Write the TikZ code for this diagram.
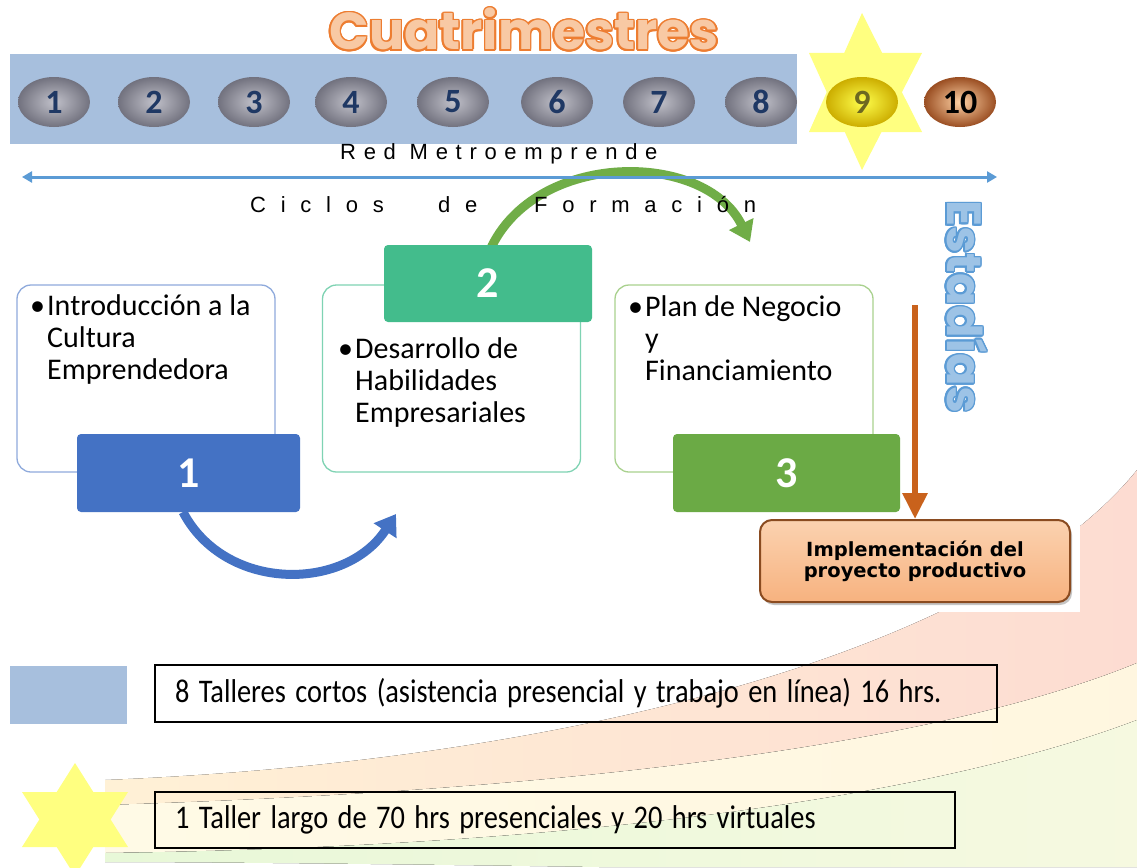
\documentclass[tikz,border=0pt]{standalone}
\usepackage{fontspec}
\setmainfont{Carlito}
\newfontfamily\titlefont{Poppins}
\newfontfamily\spacedfont{Liberation Sans}
\newfontfamily\implfont{DejaVu Sans}
\usepackage[copies]{contour}
\contourlength{1.6pt}
\usetikzlibrary{shapes.geometric,arrows.meta,positioning,shadows}

\definecolor{bandblue}{HTML}{A7BFDD}
\definecolor{ballgray}{HTML}{8E8E9E}
\definecolor{numnavy}{HTML}{1F3864}
\definecolor{starfill}{HTML}{FFFF80}
\definecolor{cycblue}{HTML}{4472C4}
\definecolor{cycteal}{HTML}{43BC8C}
\definecolor{cycgreen}{HTML}{6BAA45}
\definecolor{edgeblue}{HTML}{8FAADC}
\definecolor{edgeteal}{HTML}{7FD3B3}
\definecolor{edgegreen}{HTML}{A9D18E}
\definecolor{lineblue}{HTML}{5B9BD5}
\definecolor{arrgreen}{HTML}{70AD47}
\definecolor{arrbrown}{HTML}{C9621C}
\definecolor{titleorange}{HTML}{F8C9A4}
\definecolor{titleedge}{HTML}{ED7D31}
\definecolor{estfill}{HTML}{9DC3E6}
\definecolor{estedge}{HTML}{5B9BD5}
\definecolor{implfill}{HTML}{F7B27F}
\definecolor{impltop}{HTML}{FBD2B0}
\definecolor{impledge}{HTML}{8A4B20}
\definecolor{swpeach}{HTML}{FDDCD2}
\definecolor{swyellow}{HTML}{FFF1D6}
\definecolor{swcream}{HTML}{FFFAE6}
\definecolor{swgreen}{HTML}{E8F8D8}
\definecolor{ballbrown}{HTML}{9A4E22}

\tikzset{
  ball/.style={ellipse, minimum width=72pt, minimum height=50pt, inner sep=0pt,
    inner color=ballgray!55!white, outer color=ballgray!80!black, text=numnavy,
    font=\bfseries\fontsize{34}{34}\selectfont},
  outbox/.style={draw, line width=1.3pt, rounded corners=14pt, fill=white,
    minimum width=258pt, minimum height=187pt},
  numbox/.style={rounded corners=4pt, text=white, minimum height=78pt,
    font=\bfseries\fontsize{44}{44}\selectfont},
  cyctext/.style={anchor=north west, inner sep=0pt, font=\fontsize{30}{32}\selectfont},
  bigarrow/.style={line width=9pt, -{Triangle[length=20pt,width=26pt]}},
  legbox/.style={draw, line width=1.6pt, inner xsep=20pt, align=left,
    font=\fontsize{33}{33}\selectfont},
  spaced/.style={anchor=base west, inner sep=0pt,
    font=\spacedfont\fontsize{22}{22}\selectfont\addfontfeatures{LetterSpace=#1}}
}

\newcommand{\bulletline}[1]{\makebox[17pt][l]{\textbullet}\begin{tabular}[t]{@{}l@{}}#1\end{tabular}}
\newcommand{\narrow}[1]{\scalebox{0.86}[1]{#1}}

\begin{document}
\begin{tikzpicture}[x=1pt,y=-1pt]
\useasboundingbox (0,0) rectangle (1137,867);
\fill[white] (0,0) rectangle (1137,867);

% background swoosh
\fill[left color=swyellow, right color=swpeach]
  (105,780) .. controls (600,760) and (1000,640) .. (1137,470)
  -- (1137,663) .. controls (950,740) and (600,790) .. (105,805) -- cycle;
\fill[left color=swcream, right color=swcream!60!swyellow]
  (105,805) .. controls (600,790) and (950,740) .. (1137,663)
  -- (1137,720) .. controls (900,810) and (500,848) .. (105,853) -- cycle;
\fill[left color=swgreen, right color=swgreen!40!swcream]
  (105,853) .. controls (500,848) and (900,810) .. (1137,720)
  -- (1137,867) -- (600,867) .. controls (400,864) and (200,862) .. (105,862) -- cycle;
\fill[white] (0,0) rectangle (1080,612);

% cuatrimestres
\node[font=\titlefont\bfseries\fontsize{52}{52}\selectfont, text=titleorange, anchor=base]
  (title) at (524,50) {\contour{titleedge}{Cuatrimestres}};
\fill[bandblue] (10,54) rectangle (797,144);
\fill[starfill] (862,13) -- (809,132) -- (922,132) -- cycle;
\fill[starfill] (809,53) -- (922,53) -- (862,170) -- cycle;
\foreach \n/\x in {1/54,2/154,3/254,4/351,5/453,6/557,7/659,8/761}
  \node[ball] (b\n) at (\x,102) {\n};
\node[ball, inner color=yellow!70!white, outer color=yellow!70!orange!80!black, text=olive!70!black] (b9) at (862,102) {9};
\node[ball, inner color=orange!35!white, outer color=ballbrown, text=black] (b10) at (960,102) {10};

% ciclos de formacion
\node[outbox, draw=edgeblue] (box1) at (146,378.5) {};
\node[outbox, draw=edgeteal] (box2) at (451.5,378.5) {};
\node[outbox, draw=edgegreen] (box3) at (744,378.5) {};
\node[cyctext] (txt1) at (30,293) {\bulletline{Introducción a la\\Cultura\\Emprendedora}};
\node[cyctext] (txt2) at (338,336) {\bulletline{Desarrollo de\\Habilidades\\Empresariales}};
\node[cyctext] (txt3) at (628,294) {\bulletline{Plan de Negocio\\y\\Financiamiento}};

\coordinate (arr1end) at (396,514);
\coordinate (arr2end) at (750,242);
\draw[bigarrow, cycblue] (183,512) .. controls (225,592) and (345,592) .. (arr1end);
\draw[bigarrow, arrgreen] (490,250) .. controls (535,150) and (705,150) .. (arr2end);

\node[numbox, fill=cycblue, minimum width=223pt] (num1) at (188.5,473) {1};
\node[numbox, fill=cycteal, minimum width=208pt, minimum height=77pt] (num2) at (488,283.5) {2};
\node[numbox, fill=cycgreen, minimum width=227pt] (num3) at (786.5,473) {3};

\node[spaced=35] (red) at (340,159) {Red Metroemprende};
\coordinate (lineL) at (22,177);
\coordinate (lineR) at (997,177);
\draw[lineblue, line width=3pt, {Triangle[length=10pt,width=11pt]}-{Triangle[length=10pt,width=11pt]}] (lineL) -- (lineR);
\node[spaced=67] (ciclos) at (250,212) {Ciclos};
\node[spaced=67] (de) at (438,212) {de};
\node[spaced=67] (formacion) at (534,212) {Formación};

% estadias
\node[rotate=-90, font=\titlefont\bfseries\fontsize{48}{48}\selectfont, text=estfill]
  (est) at (966,307) {\contour{estedge}{Estadías}};
\node[rounded corners=12pt, draw=impledge, line width=2pt, top color=impltop, bottom color=implfill,
  drop shadow={shadow xshift=2pt, shadow yshift=-3pt, opacity=.45},
  minimum width=310pt, minimum height=82pt, align=center,
  font=\implfont\bfseries\fontsize{19.5}{21}\selectfont] (impl) at (915,561)
  {Implementación del\\proyecto productivo};
\coordinate (arr3start) at (915,305);
\draw[arrbrown, line width=6pt, -{Triangle[length=26pt,width=24pt]}] (arr3start) -- (impl.north);

% leyenda
\fill[bandblue] (10,666) rectangle (127,724);
\node[legbox, text width=802pt, minimum height=57pt] (leg1) at (576,693.5)
  {\narrow{8 Talleres cortos (asistencia presencial y trabajo en línea) 16 hrs.}};
\fill[starfill] (75,763) -- (22,847) -- (128,847) -- cycle;
\fill[starfill] (22,792) -- (128,792) -- (75,876) -- cycle;
\node[legbox, text width=760pt, minimum height=56pt] (leg2) at (555,820)
  {\narrow{1 Taller largo de 70 hrs presenciales y 20 hrs virtuales}};
\end{tikzpicture}
\end{document}
